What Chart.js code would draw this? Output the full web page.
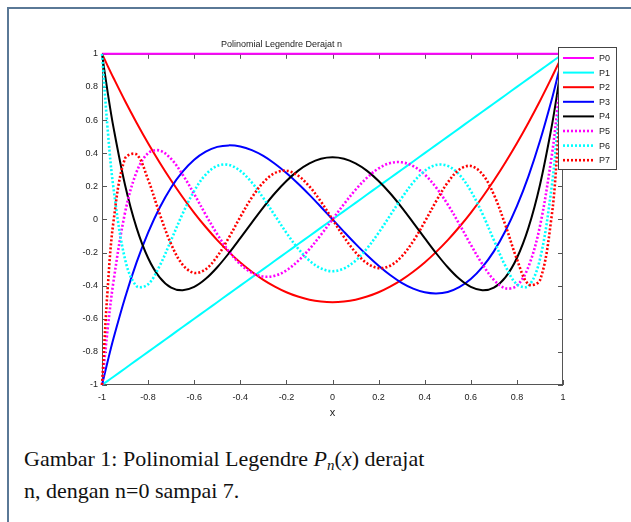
<!DOCTYPE html>
<html>
<head>
<meta charset="utf-8">
<script src="https://cdn.jsdelivr.net/npm/chart.js@4.4.1/dist/chart.umd.min.js"></script>
<style>
  html, body { margin: 0; padding: 0; background: #fff; }
  body { width: 631px; height: 522px; position: relative; overflow: hidden; }
  #frame { position: absolute; left: 7px; top: 7px; right: -4px; bottom: -4px;
           border-left: 2px solid #5a7896; border-top: 2px solid #5a7896; }
  #c { position: absolute; left: 0; top: 0; }
  #cap { position: absolute; left: 24px; top: 443px; font-family: "Liberation Serif", "DejaVu Serif", serif;
         font-size: 22px; line-height: 32px; color: #111; white-space: nowrap; }
  #cap sub { font-size: 15px; vertical-align: -4px; line-height: 0; }
</style>
</head>
<body>
<div id="frame"></div>
<canvas id="c" width="631" height="430"></canvas>
<div id="cap">Gambar 1: Polinomial Legendre <i>P</i><sub><i>n</i></sub>(<i>x</i>) derajat<br>n, dengan n=0 sampai 7.</div>
<script>
// ---- data ----
const seriesNames = ["P0", "P1", "P2", "P3", "P4", "P5", "P6", "P7"];
const xValues = [-1, -0.975, -0.95, -0.9, -0.85, -0.8, -0.75, -0.7, -0.65, -0.6, -0.55, -0.5, -0.45, -0.4, -0.35, -0.3, -0.25, -0.2, -0.15, -0.1, -0.05,
  0, 0.05, 0.1, 0.15, 0.2, 0.25, 0.3, 0.35, 0.4, 0.45, 0.5, 0.55, 0.6, 0.65, 0.7, 0.75, 0.8, 0.85, 0.9, 0.95, 0.975, 1];
const p0 = [1, 1, 1, 1, 1, 1, 1, 1, 1, 1, 1, 1, 1, 1, 1, 1, 1, 1, 1, 1, 1,
  1, 1, 1, 1, 1, 1, 1, 1, 1, 1, 1, 1, 1, 1, 1, 1, 1, 1, 1, 1, 1, 1];
const p1 = [-1, -0.975, -0.95, -0.9, -0.85, -0.8, -0.75, -0.7, -0.65, -0.6, -0.55, -0.5, -0.45, -0.4, -0.35, -0.3, -0.25, -0.2, -0.15, -0.1, -0.05,
  0, 0.05, 0.1, 0.15, 0.2, 0.25, 0.3, 0.35, 0.4, 0.45, 0.5, 0.55, 0.6, 0.65, 0.7, 0.75, 0.8, 0.85, 0.9, 0.95, 0.975, 1];
const p2 = [1, 0.926, 0.854, 0.715, 0.584, 0.46, 0.344, 0.235, 0.134, 0.04, -0.046, -0.125, -0.196, -0.26, -0.316, -0.365, -0.406, -0.44, -0.466, -0.485, -0.496,
  -0.5, -0.496, -0.485, -0.466, -0.44, -0.406, -0.365, -0.316, -0.26, -0.196, -0.125, -0.046, 0.04, 0.134, 0.235, 0.344, 0.46, 0.584, 0.715, 0.854, 0.926, 1];
const p3 = [-1, -0.855, -0.718, -0.473, -0.26, -0.08, 0.07, 0.193, 0.288, 0.36, 0.409, 0.438, 0.447, 0.44, 0.418, 0.383, 0.336, 0.28, 0.217, 0.148, 0.075,
  0, -0.075, -0.148, -0.217, -0.28, -0.336, -0.383, -0.418, -0.44, -0.447, -0.438, -0.409, -0.36, -0.288, -0.193, -0.07, 0.08, 0.26, 0.473, 0.718, 0.855, 1];
const p4 = [1, 0.764, 0.554, 0.208, -0.051, -0.233, -0.35, -0.412, -0.428, -0.408, -0.359, -0.289, -0.205, -0.113, -0.019, 0.073, 0.158, 0.232, 0.293, 0.338, 0.366,
  0.375, 0.366, 0.338, 0.293, 0.232, 0.158, 0.073, -0.019, -0.113, -0.205, -0.289, -0.359, -0.408, -0.428, -0.412, -0.35, -0.233, -0.051, 0.208, 0.554, 0.764, 1];
const p5 = [-1, -0.657, -0.373, 0.041, 0.286, 0.4, 0.416, 0.365, 0.27, 0.153, 0.028, -0.09, -0.192, -0.271, -0.322, -0.345, -0.34, -0.308, -0.252, -0.179, -0.093,
  0, 0.093, 0.179, 0.252, 0.308, 0.34, 0.345, 0.322, 0.271, 0.192, 0.09, -0.028, -0.153, -0.27, -0.365, -0.416, -0.4, -0.286, -0.041, 0.373, 0.657, 1];
const p6 = [1, 0.537, 0.187, -0.241, -0.403, -0.392, -0.281, -0.125, 0.035, 0.172, 0.271, 0.323, 0.329, 0.293, 0.223, 0.129, 0.024, -0.081, -0.175, -0.249, -0.296,
  -0.313, -0.296, -0.249, -0.175, -0.081, 0.024, 0.129, 0.223, 0.293, 0.329, 0.323, 0.271, 0.172, 0.035, -0.125, -0.281, -0.392, -0.403, -0.241, 0.187, 0.537, 1];
const p7 = [-1, -0.41, -0.011, 0.368, 0.392, 0.24, 0.034, -0.15, -0.274, -0.323, -0.301, -0.223, -0.111, 0.015, 0.132, 0.224, 0.28, 0.294, 0.265, 0.199, 0.107,
  0, -0.107, -0.199, -0.265, -0.294, -0.28, -0.224, -0.132, -0.015, 0.111, 0.223, 0.301, 0.323, 0.274, 0.15, -0.034, -0.24, -0.392, -0.368, 0.011, 0.41, 1];
const xTicks = [-1, -0.8, -0.6, -0.4, -0.2, 0, 0.2, 0.4, 0.6, 0.8, 1];
const yTicks = [-1, -0.8, -0.6, -0.4, -0.2, 0, 0.2, 0.4, 0.6, 0.8, 1];
const xTickLabels = ["-1", "-0.8", "-0.6", "-0.4", "-0.2", "0", "0.2", "0.4", "0.6", "0.8", "1"];
const yTickLabels = ["-1", "-0.8", "-0.6", "-0.4", "-0.2", "0", "0.2", "0.4", "0.6", "0.8", "1"];
const titleText = "Polinomial Legendre Derajat n";
const xLabel = "x";

// ---- styles ----
const allSeries = [p0, p1, p2, p3, p4, p5, p6, p7];
const colors = ["#ff00ff", "#00ffff", "#ff0000", "#0000ff", "#000000", "#ff00ff", "#00ffff", "#ff0000"];
const dashed = [false, false, false, false, false, true, true, true];
const DOT = [2, 2];

const datasets = allSeries.map((ys, i) => ({
  label: seriesNames[i],
  data: xValues.map((x, k) => ({ x: x, y: ys[k] })),
  borderColor: colors[i],
  borderWidth: dashed[i] ? 2.6 : 2,
  borderDash: dashed[i] ? DOT : [],
  borderCapStyle: 'butt',
  pointRadius: 0,
  tension: 0.35,
  fill: false,
  clip: false,
  order: 7 - i
}));

const frameTicks = {
  id: 'frameTicks',
  beforeDatasetsDraw(chart) {
    const { ctx, chartArea: a, scales } = chart;
    ctx.save();
    ctx.strokeStyle = '#555';
    ctx.lineWidth = 1;
    ctx.strokeRect(a.left + 0.5, a.top + 0.5, a.right - a.left - 1, a.bottom - a.top - 1);
    const L = 5;
    ctx.beginPath();
    xTicks.forEach(v => {
      const px = Math.round(scales.x.getPixelForValue(v)) + 0.5;
      ctx.moveTo(px, a.bottom); ctx.lineTo(px, a.bottom - L);
      ctx.moveTo(px, a.top); ctx.lineTo(px, a.top + L);
    });
    yTicks.forEach(v => {
      const py = Math.round(scales.y.getPixelForValue(v)) + 0.5;
      ctx.moveTo(a.left, py); ctx.lineTo(a.left + L, py);
      ctx.moveTo(a.right, py); ctx.lineTo(a.right - L, py);
    });
    ctx.stroke();
    ctx.restore();
  }
};

const boxLegend = {
  id: 'boxLegend',
  afterDraw(chart) {
    const { ctx } = chart;
    const bx = 558, by = 47, bw = 58, bh = 122;
    ctx.save();
    ctx.fillStyle = '#fff';
    ctx.fillRect(bx, by, bw, bh);
    ctx.strokeStyle = '#444';
    ctx.lineWidth = 1;
    ctx.strokeRect(bx + 0.5, by + 0.5, bw, bh);
    ctx.font = '9px "Liberation Sans", Arial, sans-serif';
    ctx.textBaseline = 'middle';
    ctx.fillStyle = '#222';
    chart.data.datasets.forEach((ds, i) => {
      const y = by + 11 + i * 14.6;
      ctx.beginPath();
      ctx.strokeStyle = ds.borderColor;
      ctx.lineWidth = ds.borderWidth;
      ctx.setLineDash(ds.borderDash || []);
      ctx.moveTo(bx + 5, y); ctx.lineTo(bx + 36, y);
      ctx.stroke();
      ctx.setLineDash([]);
      ctx.fillText(ds.label, bx + 41, y + 0.5);
    });
    ctx.restore();
  }
};

const tickFont = { family: '"Liberation Sans", Arial, sans-serif', size: 9 };

new Chart(document.getElementById('c'), {
  type: 'line',
  data: { datasets },
  options: {
    responsive: false,
    animation: false,
    devicePixelRatio: 1,
    layout: { padding: { left: 0, right: 68, top: 39, bottom: 0 } },
    plugins: {
      legend: { display: false },
      tooltip: { enabled: false },
      title: {
        display: true, text: titleText, color: '#222',
        font: { family: '"Liberation Sans", Arial, sans-serif', size: 9, weight: 'normal', lineHeight: 1.2 },
        padding: { top: 0, bottom: 4 }
      }
    },
    scales: {
      x: {
        type: 'linear', min: -1, max: 1,
        afterFit(s) { s.height = 45; },
        afterBuildTicks(s) { s.ticks = xTicks.map(v => ({ value: v })); },
        grid: { display: false, drawTicks: false },
        border: { display: false },
        ticks: { color: '#222', font: tickFont, padding: 7, maxRotation: 0, autoSkip: false,
                 callback: (v, i) => xTickLabels[i] },
        title: { display: true, text: xLabel, color: '#222',
                 font: { family: '"Liberation Sans", Arial, sans-serif', size: 11 }, padding: { top: 0, bottom: 10 } }
      },
      y: {
        type: 'linear', min: -1, max: 1,
        afterFit(s) { s.width = 102; },
        afterBuildTicks(s) { s.ticks = yTicks.map(v => ({ value: v })); },
        grid: { display: false, drawTicks: false },
        border: { display: false },
        ticks: { color: '#222', font: tickFont, padding: 4, autoSkip: false,
                 callback: (v, i) => yTickLabels[i] }
      }
    }
  },
  plugins: [frameTicks, boxLegend]
});
</script>
</body>
</html>
